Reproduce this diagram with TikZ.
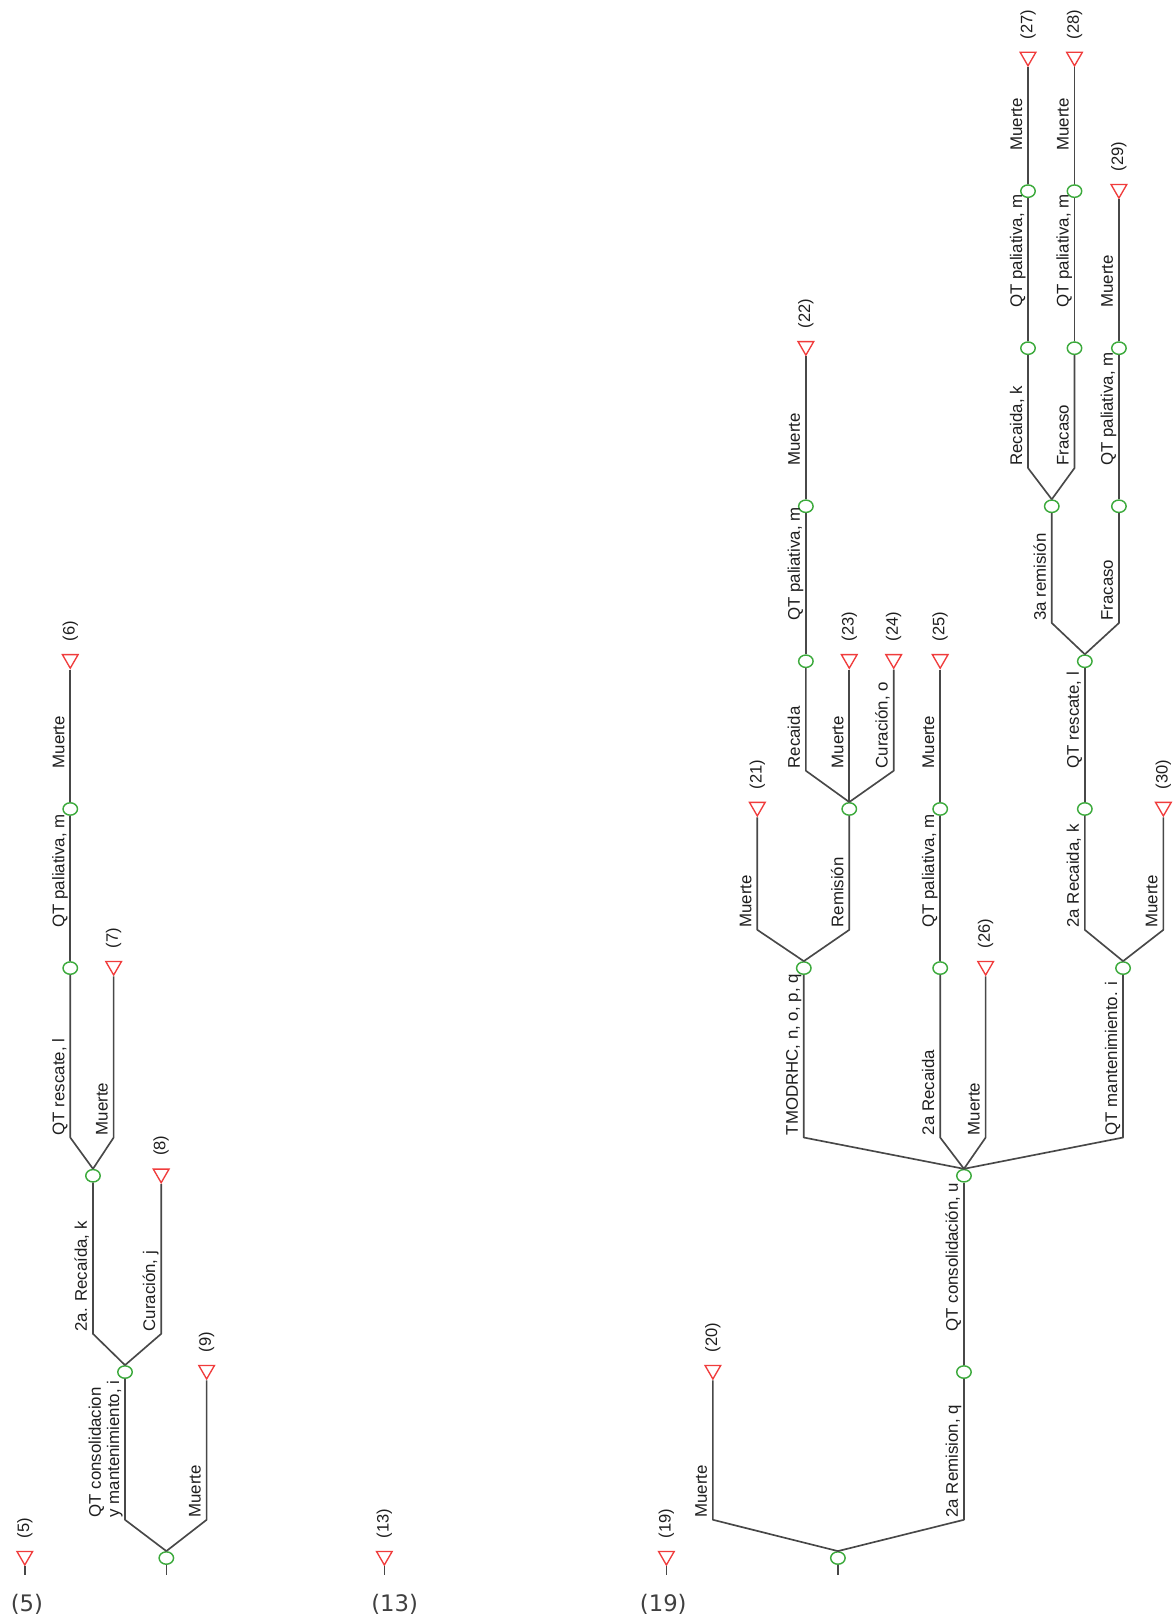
\documentclass[tikz,border=0pt]{standalone}
\usepackage{fontspec}
\setmainfont{Liberation Sans}
\newfontfamily\pagefont{DejaVu Sans}
\usetikzlibrary{shapes.geometric}
\definecolor{linec}{HTML}{484848}
\definecolor{nodegreen}{HTML}{3CAA3C}
\definecolor{termred}{HTML}{F03C3C}
\definecolor{textc}{HTML}{1E1E1E}
\begin{document}
\begin{tikzpicture}[x=1pt,y=-1pt,
  br/.style={draw=linec, line width=1.6pt, line join=round},
  chance/.style={ellipse, draw=nodegreen, fill=white, line width=1.4pt, minimum width=14pt, minimum height=12pt, inner sep=0pt},
  term/.style={regular polygon, regular polygon sides=3, shape border rotate=180, draw=termred, fill=white, line width=1.3pt, minimum size=17.5pt, inner sep=0pt},
  blab/.style={rotate=90, anchor=south west, align=left, text depth=0pt, inner xsep=1.5pt, inner ysep=5pt, font=\fontsize{16.3}{17.5}\selectfont, text=textc},
  tlab/.style={rotate=90, anchor=west, inner xsep=12pt, inner ysep=0pt, font=\fontsize{16}{18}\selectfont, text=textc},
  pagelab/.style={font=\pagefont\fontsize{22}{24}\selectfont, text=textc!85}
]
\path[fill=white, use as bounding box] (0,0) rectangle (1137,1568);

% ---------------- left tree (5) ----------------
\node[term] (t5) at (24,1506) {};
\node[chance] (A) at (161,1508) {};
\node[chance] (B) at (121,1328) {};
\node[term] (t9) at (200,1326) {};
\node[chance] (C) at (90,1138) {};
\node[term] (t8) at (156,1136) {};
\node[chance] (D) at (68,937) {};
\node[term] (t7) at (110,935) {};
\node[chance] (E) at (68,783) {};
\node[term] (t6) at (68,638) {};

\coordinate (eAB) at (121,1471);
\coordinate (eA9) at (200,1471);
\coordinate (eBC) at (90,1291);
\coordinate (eB8) at (156,1291);
\coordinate (eCD) at (68,1101);
\coordinate (eC7) at (110,1101);
\coordinate (eDE) at (68,900);
\coordinate (eE6) at (68,746);
\coordinate (sA) at (161,1524);
\coordinate (s5) at (24,1524);

\draw[br] (A.north) -- (eAB) node[blab] (bAB) {QT consolidacion\\y mantenimiento, i} -- (B.south);
\draw[br] (A.north) -- (eA9) node[blab] (bA9) {Muerte} -- (t9.south);
\draw[br] (B.north) -- (eBC) node[blab] (bBC) {2a. Recaída, k} -- (C.south);
\draw[br] (B.north) -- (eB8) node[blab] (bB8) {Curación, j} -- (t8.south);
\draw[br] (C.north) -- (eCD) node[blab] (bCD) {QT rescate, l} -- (D.south);
\draw[br] (C.north) -- (eC7) node[blab] (bC7) {Muerte} -- (t7.south);
\draw[br] (D.north) -- (eDE) node[blab] (bDE) {QT paliativa, m} -- (E.south);
\draw[br] (E.north) -- (eE6) node[blab] (bE6) {Muerte} -- (t6.south);
\draw[br] (A.south) -- (sA);
\draw[br] (t5.south) -- (s5);

\node[tlab] (l5) at (t5.north) {(5)};
\node[tlab] (l6) at (t6.north) {(6)};
\node[tlab] (l7) at (t7.north) {(7)};
\node[tlab] (l8) at (t8.north) {(8)};
\node[tlab] (l9) at (t9.north) {(9)};

% ---------------- middle (13) ----------------
\node[term] (t13) at (372,1506) {};
\coordinate (s13) at (372,1524);
\draw[br] (t13.south) -- (s13);
\node[tlab] (l13) at (t13.north) {(13)};

% ---------------- right tree (19) ----------------
\node[term] (t19) at (645,1506) {};
\node[chance] (R) at (811,1508) {};
\node[term] (t20) at (690,1326) {};
\node[chance] (S) at (933,1328) {};
\node[chance] (T) at (933,1138) {};
\node[chance] (U) at (778,937) {};
\node[chance] (V) at (910,937) {};
\node[term] (t26) at (954,935) {};
\node[chance] (W) at (1087,937) {};
\node[term] (t21) at (733,781) {};
\node[chance] (X) at (822,783) {};
\node[chance] (V2) at (910,783) {};
\node[chance] (W2) at (1050,783) {};
\node[term] (t30) at (1126,781) {};
\node[chance] (Y) at (780,640) {};
\node[term] (t23) at (822,638) {};
\node[term] (t24) at (865,638) {};
\node[term] (t25) at (910,638) {};
\node[chance] (Q) at (1050,640) {};
\node[chance] (Z) at (780,490) {};
\node[chance] (G1) at (1018,490) {};
\node[chance] (G2) at (1083,490) {};
\node[term] (t22) at (780,335) {};
\node[chance] (H1) at (995,337) {};
\node[chance] (H2) at (1040,337) {};
\node[chance] (H3) at (1083,337) {};
\node[chance] (I1) at (995,185) {};
\node[chance] (I2) at (1040,185) {};
\node[term] (t29) at (1083,183) {};
\node[term] (t27) at (995,55) {};
\node[term] (t28) at (1040,55) {};

\coordinate (eR20) at (690,1471);
\coordinate (eRS) at (933,1471);
\coordinate (eST) at (933,1291);
\coordinate (eTU) at (778,1101);
\coordinate (eTV) at (910,1101);
\coordinate (eT26) at (954,1101);
\coordinate (eTW) at (1087,1101);
\coordinate (eU21) at (733,900);
\coordinate (eUX) at (822,900);
\coordinate (eVV2) at (910,900);
\coordinate (eWW2) at (1050,900);
\coordinate (eW30) at (1126,900);
\coordinate (eXY) at (780,746);
\coordinate (eX23) at (822,746);
\coordinate (eX24) at (865,746);
\coordinate (eV225) at (910,746);
\coordinate (eW2Q) at (1050,746);
\coordinate (eYZ) at (780,603);
\coordinate (eQG1) at (1018,603);
\coordinate (eQG2) at (1083,603);
\coordinate (eZ22) at (780,453);
\coordinate (eG1H1) at (995,453);
\coordinate (eG1H2) at (1040,453);
\coordinate (eG2H3) at (1083,453);
\coordinate (eH1I1) at (995,300);
\coordinate (eH2I2) at (1040,300);
\coordinate (eH329) at (1083,300);
\coordinate (eI127) at (995,148);
\coordinate (eI228) at (1040,148);
\coordinate (sR) at (811,1524);
\coordinate (s19) at (645,1524);

\draw[br] (R.north) -- (eR20) node[blab] (bR20) {Muerte} -- (t20.south);
\draw[br] (R.north) -- (eRS) node[blab] (bRS) {2a Remision, q} -- (S.south);
\draw[br] (S.north) -- (eST) node[blab] (bST) {QT consolidación, u} -- (T.south);
\draw[br] (T.north) -- (eTU) node[blab] (bTU) {TMODRHC, n, o, p, q} -- (U.south);
\draw[br] (T.north) -- (eTV) node[blab] (bTV) {2a Recaida} -- (V.south);
\draw[br] (T.north) -- (eT26) node[blab] (bT26) {Muerte} -- (t26.south);
\draw[br] (T.north) -- (eTW) node[blab] (bTW) {QT mantenimiento. i} -- (W.south);
\draw[br] (U.north) -- (eU21) node[blab] (bU21) {Muerte} -- (t21.south);
\draw[br] (U.north) -- (eUX) node[blab] (bUX) {Remisión} -- (X.south);
\draw[br] (V.north) -- (eVV2) node[blab] (bVV2) {QT paliativa, m} -- (V2.south);
\draw[br] (W.north) -- (eWW2) node[blab] (bWW2) {2a Recaida, k} -- (W2.south);
\draw[br] (W.north) -- (eW30) node[blab] (bW30) {Muerte} -- (t30.south);
\draw[br] (X.north) -- (eXY) node[blab] (bXY) {Recaida} -- (Y.south);
\draw[br] (X.north) -- (eX23) node[blab] (bX23) {Muerte} -- (t23.south);
\draw[br] (X.north) -- (eX24) node[blab] (bX24) {Curación, o} -- (t24.south);
\draw[br] (V2.north) -- (eV225) node[blab] (bV225) {Muerte} -- (t25.south);
\draw[br] (W2.north) -- (eW2Q) node[blab] (bW2Q) {QT rescate, l} -- (Q.south);
\draw[br] (Y.north) -- (eYZ) node[blab] (bYZ) {QT paliativa, m} -- (Z.south);
\draw[br] (Q.north) -- (eQG1) node[blab] (bQG1) {3a remisión} -- (G1.south);
\draw[br] (Q.north) -- (eQG2) node[blab] (bQG2) {Fracaso} -- (G2.south);
\draw[br] (Z.north) -- (eZ22) node[blab] (bZ22) {Muerte} -- (t22.south);
\draw[br] (G1.north) -- (eG1H1) node[blab] (bG1H1) {Recaida, k} -- (H1.south);
\draw[br] (G1.north) -- (eG1H2) node[blab] (bG1H2) {Fracaso} -- (H2.south);
\draw[br] (G2.north) -- (eG2H3) node[blab] (bG2H3) {QT paliativa, m} -- (H3.south);
\draw[br] (H1.north) -- (eH1I1) node[blab] (bH1I1) {QT paliativa, m} -- (I1.south);
\draw[br] (H2.north) -- (eH2I2) node[blab] (bH2I2) {QT paliativa, m} -- (I2.south);
\draw[br] (H3.north) -- (eH329) node[blab] (bH329) {Muerte} -- (t29.south);
\draw[br] (I1.north) -- (eI127) node[blab] (bI127) {Muerte} -- (t27.south);
\draw[br] (I2.north) -- (eI228) node[blab] (bI228) {Muerte} -- (t28.south);
\draw[br] (R.south) -- (sR);
\draw[br] (t19.south) -- (s19);

\node[tlab] (l19) at (t19.north) {(19)};
\node[tlab] (l20) at (t20.north) {(20)};
\node[tlab] (l21) at (t21.north) {(21)};
\node[tlab] (l22) at (t22.north) {(22)};
\node[tlab] (l23) at (t23.north) {(23)};
\node[tlab] (l24) at (t24.north) {(24)};
\node[tlab] (l25) at (t25.north) {(25)};
\node[tlab] (l26) at (t26.north) {(26)};
\node[tlab] (l27) at (t27.north) {(27)};
\node[tlab] (l28) at (t28.north) {(28)};
\node[tlab] (l29) at (t29.north) {(29)};
\node[tlab] (l30) at (t30.north) {(30)};

% ---------------- page labels ----------------
\node[pagelab] (p5) at (26,1553) {(5)};
\node[pagelab] (p13) at (382,1553) {(13)};
\node[pagelab] (p19) at (642,1553) {(19)};
\end{tikzpicture}
\end{document}
